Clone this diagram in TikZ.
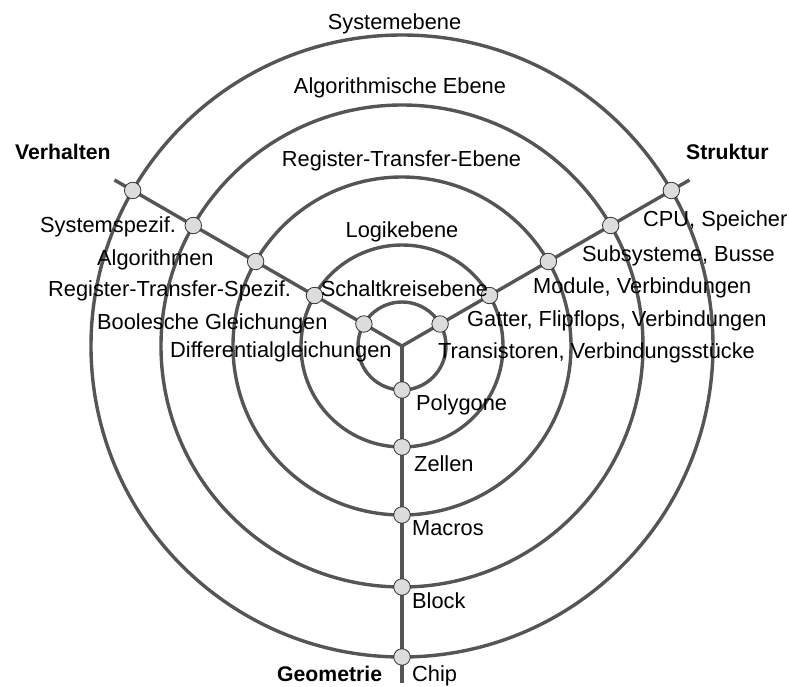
\documentclass[tikz,border=0pt]{standalone}
\usepackage{fontspec}
\setmainfont{Liberation Sans}
\usetikzlibrary{calc}
\definecolor{ringgray}{HTML}{555555}
\definecolor{dotfill}{HTML}{DCDCDC}
\begin{document}
\begin{tikzpicture}[x=1pt,y=1pt,
  ring/.style={draw=ringgray,line width=3.4pt},
  axisline/.style={draw=ringgray,line width=3.4pt},
  dot/.style={circle,draw=black!80,line width=0.8pt,fill=dotfill,minimum size=16.5pt,inner sep=0pt},
  lbl/.style={inner sep=0pt,anchor=base west,font=\fontsize{21.8}{24}\selectfont},
  ttl/.style={inner sep=0pt,anchor=base,font=\fontsize{21.8}{24}\selectfont},
  dom/.style={inner sep=0pt,anchor=base west,font=\fontsize{21.2}{24}\selectfont\bfseries}]
\useasboundingbox (-402,346) rectangle (387,-340);

% centre of the Y-chart and the free ends of the three axes
\coordinate (C) at (0,0);
\coordinate (Vend) at (150:332);
\coordinate (Send) at (30:332);
\coordinate (Gend) at (-90:337);

% abstraction levels as concentric rings
\foreach \r in {44,101,169,241,311}
  \draw[ring] (C) circle[radius=\r];

% the three domain axes
\draw[axisline] (C) -- (Vend);
\draw[axisline] (C) -- (Send);
\draw[axisline] (C) -- (Gend);

% intersection points of rings and axes
\foreach \r [count=\i] in {44,101,169,241,311} {
  \node[dot] (v\i) at (150:\r) {};
  \node[dot] (s\i) at (30:\r) {};
  \node[dot] (g\i) at (-90:\r) {};
}

% level names
\node[ttl] (lvl5) at (-7.5,316) {Systemebene};
\node[ttl] (lvl4) at (-2,252.7) {Algorithmische Ebene};
\node[ttl] (lvl3) at (-0.5,179.3) {Register-Transfer-Ebene};
\node[ttl] (lvl2) at (0,108.3) {Logikebene};
\node[lbl] (lvl1) at (-81.3,49.3) {Schaltkreisebene};

% domain names
\node[dom] (dV) at (-387,186.7) {Verhalten};
\node[dom] (dS) at (284,186.7) {Struktur};
\node[dom] (dG) at (-125,-335) {Geometrie};

% behavioural domain
\node[lbl] (b5) at (-362,113.3) {Systemspezif.};
\node[lbl] (b4) at (-305,81) {Algorithmen};
\node[lbl] (b3) at (-354,49.3) {Register-Transfer-Spezif.};
\node[lbl] (b2) at (-305,17) {Boolesche Gleichungen};
\node[lbl] (b1) at (-232,-11) {Differentialgleichungen};

% structural domain
\node[lbl] (st5) at (241,119.3) {CPU, Speicher};
\node[lbl] (st4) at (180,84.3) {Subsysteme, Busse};
\node[lbl] (st3) at (131,53) {Module, Verbindungen};
\node[lbl] (st2) at (65,19.3) {Gatter, Flipflops, Verbindungen};
\node[lbl] (st1) at (36,-12) {Transistoren, Verbindungsstücke};

% geometrical domain
\node[lbl] (ge1) at (14,-64) {Polygone};
\node[lbl] (ge2) at (12,-125.7) {Zellen};
\node[lbl] (ge3) at (10,-189.7) {Macros};
\node[lbl] (ge4) at (10,-262) {Block};
\node[lbl] (ge5) at (10,-335.7) {Chip};
\end{tikzpicture}
\end{document}
